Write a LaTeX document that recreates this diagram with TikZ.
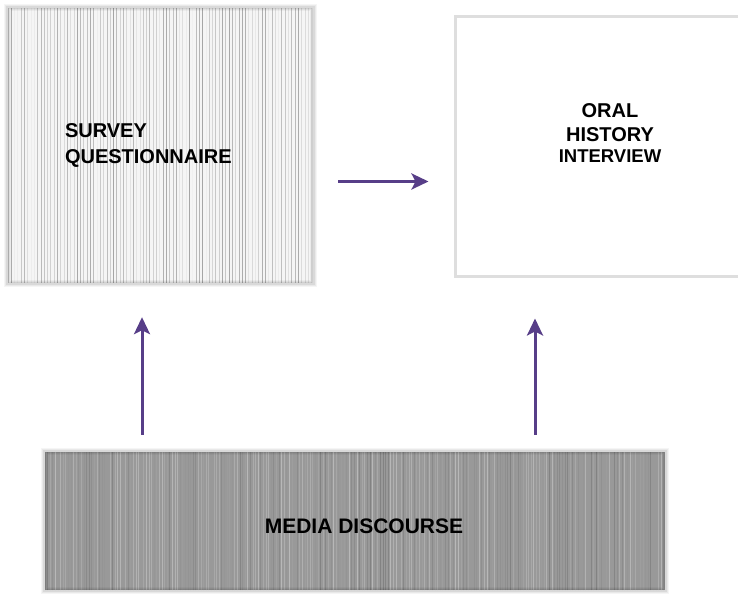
\documentclass[tikz,border=0pt]{standalone}
\usepackage{fontspec}
\setmainfont{Liberation Sans}
\usetikzlibrary{arrows.meta,positioning}
\definecolor{arrowc}{HTML}{573E88}
\tikzset{
	box/.style={inner sep=0,font=\bfseries\fontsize{20}{26}\selectfont},
	stripes/.style n args={5}{fill=#1,path picture={
		\pgfmathsetseed{#4}
		\foreach \i in {0,...,240}{
			\pgfmathsetmacro\g{#2+int(rnd*#3)}
			\draw[black!\g,line width=.9pt] ([xshift=\i*#5]path picture bounding box.south west) -- ([xshift=\i*#5]path picture bounding box.north west);
		}}},
	flow/.style={draw=arrowc,line width=3pt,-{Stealth[length=17pt,width=16pt,inset=4pt]}}
}
\begin{document}
\begin{tikzpicture}[x=1pt,y=1pt]
		\useasboundingbox (0,0) rectangle (738,594);
		\node [box,stripes={black!4}{6}{30}{5}{3.3pt},minimum width=305,minimum height=275,
			label={[xshift=0pt,text width=191pt,align=left,font=\bfseries\fontsize{20}{26}\selectfont]center:SURVEY\\QUESTIONNAIRE}] at (160.5,448.5) (survey) {};
		\node [box,fill=white,draw=black!13,line width=3pt,minimum width=310,minimum height=260,
			label={[yshift=14pt,align=center,font=\bfseries\fontsize{20}{24}\selectfont]center:ORAL\\HISTORY\\[-3pt]{\fontsize{18.5}{22}\selectfont INTERVIEW}}] at (610,447) (oral) {};
		\node [box,stripes={black!40}{28}{22}{11}{2.6pt},minimum width=620,minimum height=138,
			label={[xshift=9pt,yshift=-5pt,font=\bfseries\fontsize{21}{24}\selectfont]center:MEDIA DISCOURSE}] at (355,73) (media) {};
		% soft edges round the filled boxes
		\foreach \w/\o in {7/.04,5/.05,3/.07}{
			\draw [black,opacity=\o,line width=\w] (survey.south west) rectangle (survey.north east);
			\draw [black,opacity=\o,line width=\w] (media.south west) rectangle (media.north east);
		}
		\draw [flow] ([xshift=25pt,yshift=-36pt]survey.east) -- ([xshift=-25pt,yshift=-36pt]survey.east -| oral.west);
		\draw [flow,shorten <=17pt,shorten >=34pt] ([xshift=-18.5pt]survey.south |- media.north) -- ([xshift=-18.5pt]survey.south);
		\draw [flow,shorten <=17pt,shorten >=40pt] ([xshift=-75pt]oral.south |- media.north) -- ([xshift=-75pt]oral.south);
	\end{tikzpicture}
\end{document}
